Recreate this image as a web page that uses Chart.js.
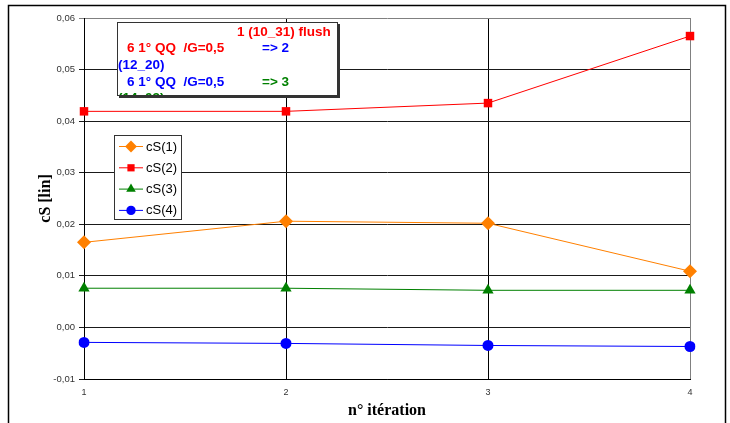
<!DOCTYPE html>
<html>
<head>
<meta charset="utf-8">
<script src="https://cdn.jsdelivr.net/npm/chart.js@4/dist/chart.umd.min.js"></script>
<style>
    html, body { margin: 0; padding: 0; background: #fff; }
    #wrap { width: 730px; height: 423px; position: relative; }
</style>
</head>
<body>
<div id="wrap"><canvas id="chart" width="730" height="423"></canvas></div>
<script>
// Chart data
const iterations = ['1', '2', '3', '4'];
const cS1 = [0.0165, 0.0206, 0.0202, 0.0109];
const cS2 = [0.0419, 0.0419, 0.0435, 0.0565];
const cS3 = [0.0076, 0.0076, 0.0072, 0.0072];
const cS4 = [-0.0029, -0.0031, -0.0035, -0.0037];
const seriesNames = ['cS(1)', 'cS(2)', 'cS(3)', 'cS(4)'];
const yTickValues = [-0.01, 0, 0.01, 0.02, 0.03, 0.04, 0.05, 0.06];
const yTickLabels = ['-0,01', '0,00', '0,01', '0,02', '0,03', '0,04', '0,05', '0,06'];

// Text box lines: [text, color, x]
const noteLines = [
    [['1 (10_31) flush', '#ff0000', 237]],
    [['6 1° QQ  /G=0,5', '#ff0000', 127], ['=> 2', '#0000ff', 262]],
    [['(12_20)', '#0000ff', 118]],
    [['6 1° QQ  /G=0,5', '#0000ff', 127], ['=> 3', '#008000', 262]],
    [['(14_03)', '#008000', 118]]
];

const colors = ['#ff8000', '#ff0000', '#008000', '#0000ff'];
const markers = ['rectRot', 'rect', 'triangle', 'circle'];
const markerSizes = [7, 6, 6.5, 5.5];

// Draws frame, note box and legend
const extrasPlugin = {
    id: 'extras',
    beforeDraw(chart) {
        const ctx = chart.ctx;
        ctx.save();
        ctx.fillStyle = '#fff';
        ctx.fillRect(0, 0, chart.width, chart.height);
        ctx.strokeStyle = '#000';
        ctx.lineWidth = 1.5;
        ctx.beginPath();
        ctx.moveTo(8.5, 430);
        ctx.lineTo(8.5, 5.5);
        ctx.lineTo(725.5, 5.5);
        ctx.lineTo(725.5, 430);
        ctx.stroke();
        ctx.restore();
    },
    afterDraw(chart) {
        const ctx = chart.ctx;
        ctx.save();

        // note box with shadow
        ctx.fillStyle = '#333';
        ctx.fillRect(119, 24, 221, 74);
        ctx.fillStyle = '#fff';
        ctx.fillRect(117, 22, 221, 74);
        ctx.strokeStyle = '#333';
        ctx.lineWidth = 1;
        ctx.strokeRect(117.5, 22.5, 220, 73);
        ctx.beginPath();
        ctx.rect(118, 23, 219, 72);
        ctx.clip();
        ctx.font = 'bold 13.5px "Liberation Sans", Arial, sans-serif';
        ctx.textBaseline = 'middle';
        noteLines.forEach((line, i) => {
            line.forEach(([text, color, x]) => {
                ctx.fillStyle = color;
                ctx.fillText(text, x, 32 + i * 16.6);
            });
        });
        ctx.restore();

        // legend
        ctx.save();
        ctx.fillStyle = '#fff';
        ctx.fillRect(114, 135, 67, 85);
        ctx.strokeStyle = '#333';
        ctx.lineWidth = 1;
        ctx.strokeRect(114.5, 135.5, 67, 84);
        ctx.font = '13px "Liberation Sans", Arial, sans-serif';
        ctx.textBaseline = 'middle';
        seriesNames.forEach((name, i) => {
            const y = 146 + i * 21.3;
            ctx.strokeStyle = colors[i];
            ctx.beginPath();
            ctx.moveTo(119, y + 0.5);
            ctx.lineTo(143, y + 0.5);
            ctx.stroke();
            ctx.fillStyle = colors[i];
            Chart.helpers.drawPoint(ctx, {
                pointStyle: markers[i],
                radius: markerSizes[i] * 0.85,
                borderWidth: 0
            }, 131, y + 0.5);
            ctx.fillStyle = '#000';
            ctx.fillText(name, 146, y + 1);
        });
        ctx.restore();
    }
};

const datasets = [cS1, cS2, cS3, cS4].map((values, i) => ({
    label: seriesNames[i],
    data: values,
    borderColor: colors[i],
    backgroundColor: colors[i],
    borderWidth: 1,
    pointStyle: markers[i],
    pointRadius: markerSizes[i],
    pointBorderWidth: 0,
    pointHoverRadius: markerSizes[i],
    tension: 0
}));

new Chart(document.getElementById('chart').getContext('2d'), {
    type: 'line',
    data: { labels: iterations, datasets: datasets },
    options: {
        responsive: false,
        animation: false,
        events: [],
        layout: { padding: { top: 18, right: 40, left: 0, bottom: 0 } },
        plugins: {
            legend: { display: false },
            tooltip: { enabled: false }
        },
        scales: {
            x: {
                offset: false,
                afterFit: scale => { scale.height = 44; },
                grid: {
                    color: ctx => ctx.index === 3 ? '#808080' : '#000',
                    drawTicks: false
                },
                border: { color: '#000' },
                ticks: {
                    padding: 8,
                    color: '#333',
                    font: { family: '"Liberation Sans", Arial, sans-serif', size: 9 }
                },
                title: {
                    display: true,
                    text: 'n° itération',
                    color: '#000',
                    padding: { top: 0, bottom: 3 },
                    font: { family: '"Liberation Serif", "Times New Roman", serif', size: 16, weight: 'bold' }
                }
            },
            y: {
                min: -0.01,
                max: 0.06,
                afterFit: scale => { scale.width = 84; },
                afterBuildTicks: scale => {
                    scale.ticks = yTickValues.map(v => ({ value: v }));
                },
                grid: {
                    color: ctx => ctx.index === yTickValues.length - 1 ? '#808080' : '#1a1a1a',
                    tickLength: 5
                },
                border: { color: '#000' },
                ticks: {
                    padding: 4,
                    color: '#333',
                    font: { family: '"Liberation Sans", Arial, sans-serif', size: 9.5 },
                    callback: (value, index) => yTickLabels[index]
                },
                title: {
                    display: true,
                    text: 'cS [lin]',
                    color: '#000',
                    padding: { top: 36, bottom: 0 },
                    font: { family: '"Liberation Serif", "Times New Roman", serif', size: 16, weight: 'bold' }
                }
            }
        }
    },
    plugins: [extrasPlugin]
});
</script>
</body>
</html>
